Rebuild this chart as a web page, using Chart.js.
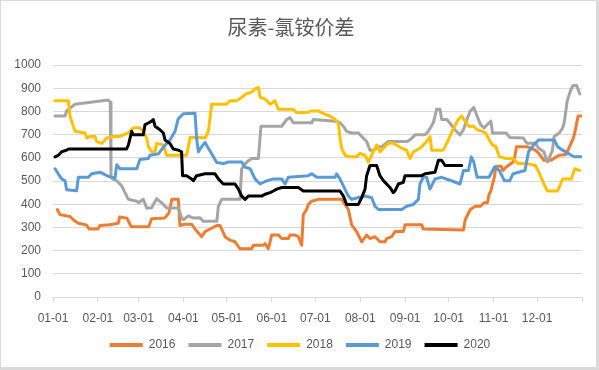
<!DOCTYPE html>
<html>
<head>
<meta charset="utf-8">
<script src="https://cdn.jsdelivr.net/npm/chart.js@4"></script>
<style>
  html, body { margin: 0; padding: 0; background: #ffffff; }
  #wrap { position: relative; width: 599px; height: 370px; }
  #frame { position: absolute; left: 0; top: 0; width: 599px; height: 370px; box-sizing: border-box;
           border-style: solid; border-color: #d9d9d9; border-width: 1px 3px 3px 1px; pointer-events: none; }
</style>
</head>
<body>
<div id="wrap">
  <canvas id="c" width="599" height="370"></canvas>
  <div id="frame"></div>
</div>
<script>
// ---- data (day of year, value) ----
const titleText = '尿素-氯铵价差';
const seriesNames = ['2016', '2017', '2018', '2019', '2020'];
const monthStarts = [0, 31, 59, 90, 120, 151, 181, 212, 243, 273, 304, 334, 365];
const tickLabels = ['01-01','02-01','03-01','04-01','05-01','06-01','07-01','08-01','09-01','10-01','11-01','12-01'];
const yTicks = [0, 100, 200, 300, 400, 500, 600, 700, 800, 900, 1000];

const s2016 = [[3,377],[4.8,355],[11.7,347],[14,333],[17.5,318],[23,311],[25,293],[31,293],[32.4,308],[39,311],[45,318],[46,345],[51,340],[54,303],[66,303],[68,337],[77,340],[80,362],[82,421],[86.5,421],[87.6,308],[91,314],[95.7,314],[98,293],[102.6,260],[104.9,282],[108.4,293],[113,308],[115.2,308],[116.4,293],[118.7,260],[122.1,245],[125.6,238],[129,208],[137,208],[138.3,223],[145.1,223],[146.3,230],[148.6,208],[150.9,267],[155.5,267],[157.8,252],[162.4,252],[163.5,267],[167,267],[169.3,260],[171.6,223],[172.7,355],[175,377],[176.2,399],[178.5,413],[183.1,421],[199.2,421],[203.8,377],[206.1,311],[209.5,282],[213,238],[216.4,267],[218.7,252],[222.2,260],[225.6,238],[229.1,238],[230.2,252],[233.7,260],[236,282],[241.7,282],[242.9,311],[254.4,311],[255.5,293],[283.2,289],[284.4,333],[287.9,377],[291.5,391],[295,391],[297.4,406],[299.7,406],[300.9,443],[302.1,457],[304.5,516],[305.6,564],[309.2,564],[310.4,545],[312.7,560],[317.5,582],[318.6,604],[319.8,648],[326.9,648],[332.8,633],[335.2,619],[338.7,589],[343.4,589],[349.3,611],[354,614],[356.4,648],[358.8,682],[360,707],[362.3,780],[364.7,780]];

const s2017 = [[1.4,780],[8.3,780],[9.4,802],[15.2,831],[38,849],[39.5,840],[40,523],[41,509],[44,501],[47.4,479],[52,421],[57.8,413],[59,406],[62.3,421],[64.6,384],[68,384],[71.5,424],[75,406],[78.4,384],[86.5,384],[88.8,340],[90,333],[93.4,350],[96.8,340],[101.4,342],[103.7,326],[113,326],[114.1,391],[116.4,421],[129,421],[130.2,553],[133.7,582],[137.1,597],[141.7,597],[143.5,736],[157.8,736],[159.6,751],[161.2,765],[163.5,773],[165.8,751],[178.5,751],[179.6,765],[194.6,758],[198,751],[200.4,736],[202.6,714],[206.1,707],[210.7,707],[213,692],[216.4,670],[218.7,633],[221,633],[224.5,648],[226.8,648],[231.4,670],[244,670],[246.3,677],[249.8,699],[256.7,699],[259,714],[262.4,751],[264.7,809],[267,809],[268.2,765],[271.7,765],[273.7,751],[277.3,721],[280.8,699],[283.2,721],[285.6,765],[287.9,802],[290.3,817],[292.6,780],[295,743],[297.4,729],[300.9,751],[302.1,758],[303.3,707],[312.7,707],[315.1,688],[324.5,685],[326.9,663],[332.8,663],[335.2,641],[338.7,626],[341.1,582],[342.3,597],[344.6,633],[345.8,692],[349.3,707],[351.7,729],[352.9,758],[354.8,846],[357.1,890],[358.8,912],[361.2,912],[363.5,875]];

const s2018 = [[1.4,846],[10.6,846],[11.7,780],[15.2,714],[22.1,707],[23.2,685],[25.5,692],[29,692],[30.1,670],[33.6,662],[37,685],[41.6,692],[46.2,692],[52,707],[55.4,729],[60,729],[62.3,714],[64.6,685],[65.8,648],[68.1,626],[70.4,626],[71.5,662],[76.1,655],[78.4,611],[92.2,611],[94.6,688],[101.4,688],[104.9,685],[107.2,714],[109.5,831],[119.8,831],[122.1,846],[126.7,846],[130.2,860],[133,875],[137,883],[139.4,897],[141.7,904],[142.9,861],[146.3,853],[147.5,846],[149.8,831],[153.2,846],[155.5,809],[165.8,809],[168.1,795],[175,795],[178.5,802],[183.1,802],[187.7,787],[191.1,780],[194.6,765],[196.9,751],[198,685],[199.2,641],[201.5,611],[205,604],[209.5,604],[211.8,619],[215.3,611],[217.6,582],[221,626],[223.4,655],[225.6,626],[229.1,648],[231.4,663],[234.8,663],[240.6,641],[244,633],[246.3,597],[248.6,626],[251,633],[254.4,648],[257.8,670],[260.1,692],[261.3,633],[269.3,633],[272.8,677],[275,710],[279.6,765],[282,780],[284.4,758],[286.7,736],[290.3,736],[292.6,721],[296.2,714],[298.5,707],[300.9,677],[303.3,655],[305.6,648],[308,604],[312.7,597],[317.5,597],[321,575],[326.9,575],[332.8,567],[335.2,538],[338.7,487],[341.1,457],[348.2,457],[351.7,509],[357.6,509],[360,553],[363.5,545]];

const s2019 = [[1.4,553],[3.7,530],[6,509],[8.3,501],[9.4,462],[16.3,458],[17.5,516],[24.4,516],[26.7,531],[32.4,538],[38.2,520],[42.8,513],[44,570],[46.2,553],[57.8,553],[60,593],[65.8,597],[66.9,611],[72.7,617],[76.1,645],[80.7,677],[84.2,714],[86.4,768],[89.9,790],[98,792],[99.1,685],[100.3,626],[102.6,648],[104.9,666],[107.2,641],[110.6,606],[113,580],[117.5,575],[121,582],[130.2,582],[132.5,560],[136,553],[139.4,509],[142.9,487],[146.3,498],[152,509],[157.8,509],[160.1,487],[162.4,516],[176.2,523],[178.5,531],[182,516],[194.6,516],[195.7,531],[198,509],[203.8,435],[206.1,421],[215.3,435],[219.9,428],[222.2,391],[224.5,377],[240.6,377],[244,391],[248.6,399],[252.1,421],[253.2,487],[255.5,516],[257.8,516],[260.1,465],[263.6,509],[268.2,516],[274.9,501],[280.8,487],[283.2,545],[286.7,545],[288.6,604],[290.3,582],[292.6,516],[300.9,516],[304.5,560],[308,545],[311.5,501],[315.1,501],[317.4,531],[325.7,545],[328.1,626],[331.6,655],[335.2,677],[345.8,677],[348.2,648],[351.7,633],[357.6,611],[360,604],[365,604]];

const s2020 = [[1.4,604],[3.7,611],[6,626],[9.4,633],[10.6,638],[50.8,638],[52,655],[54.3,714],[55.4,699],[62.3,699],[63.5,743],[65.8,750],[68.1,758],[69.2,765],[70.4,736],[73.8,721],[76.1,707],[77.3,677],[80.7,662],[83,638],[86.4,633],[88.7,626],[89.4,523],[92.2,523],[95.6,509],[96.9,501],[99.1,523],[104.9,531],[111.8,531],[114.1,509],[117.5,487],[125.6,487],[127.9,465],[130.2,435],[132.5,421],[134.8,435],[144,435],[146.3,443],[149.8,450],[152,457],[154.3,465],[157.8,472],[169.3,472],[172.7,457],[198,457],[200.4,435],[202.6,399],[210.7,399],[213,428],[215.3,465],[216.4,523],[218.7,567],[223.3,567],[225.6,523],[228,501],[229.1,494],[232.5,472],[234.8,450],[236,457],[238.3,487],[241.7,494],[242.9,523],[254.4,523],[256.7,531],[263.6,538],[265.9,589],[268.2,589],[270.5,567],[282,567]];

const allSeries = [s2016, s2017, s2018, s2019, s2020];
const colors = ['#ED7D31', '#A5A5A5', '#FFC000', '#5B9BD5', '#000000'];

const textColor = '#595959';
const gridColor = '#d9d9d9';
Chart.defaults.font.family = "'Liberation Sans', Arial, sans-serif";
Chart.defaults.color = textColor;

const datasets = allSeries.map((s, i) => ({
  label: seriesNames[i],
  data: s.map(p => ({ x: p[0], y: p[1] })),
  borderColor: colors[i],
  backgroundColor: colors[i],
  borderWidth: 3,
  pointRadius: 0,
  tension: 0,
  borderJoinStyle: 'round',
  borderCapStyle: 'round',
  order: allSeries.length - i
}));

// nudge the centred legend row slightly right, as in the reference
const legendShift = {
  id: 'legendShift',
  afterLayout(chart) {
    if (chart.legend) { chart.legend.left += 9; chart.legend.right += 9; }
  }
};

new Chart(document.getElementById('c'), {
  type: 'line',
  data: { datasets },
  plugins: [legendShift],
  options: {
    responsive: false,
    animation: false,
    layout: { padding: { left: 0, right: 17, top: 0, bottom: 9 } },
    plugins: {
      title: {
        display: true,
        text: titleText,
        color: textColor,
        font: { family: "'Noto Sans CJK SC', sans-serif", size: 20, weight: 'normal' },
        padding: { top: 15, bottom: 26 }
      },
      legend: {
        position: 'bottom',
        labels: {
          boxWidth: 33,
          boxHeight: 4,
          padding: 13,
          color: textColor,
          font: { size: 12 },
          sort: (a, b) => a.datasetIndex - b.datasetIndex,
          generateLabels: (chart) => {
            const items = Chart.defaults.plugins.legend.labels.generateLabels(chart);
            items.forEach(it => { it.lineWidth = 0; it.strokeStyle = 'rgba(0,0,0,0)'; });
            return items;
          }
        }
      },
      tooltip: { enabled: false }
    },
    scales: {
      x: {
        type: 'linear',
        min: 0,
        max: 365,
        afterBuildTicks: (scale) => { scale.ticks = monthStarts.map(v => ({ value: v })); },
        afterFit: (scale) => { scale.height = 29; },
        ticks: {
          autoSkip: false,
          maxRotation: 0,
          minRotation: 0,
          padding: 9,
          color: textColor,
          font: { size: 12 },
          callback: (value, index) => (index < tickLabels.length ? tickLabels[index] : '')
        },
        grid: { display: true, drawOnChartArea: false, drawTicks: true, tickLength: 5, color: gridColor, lineWidth: 1 },
        border: { display: true, color: gridColor, width: 1 }
      },
      y: {
        min: 0,
        max: 1000,
        afterBuildTicks: (scale) => { scale.ticks = yTicks.map(v => ({ value: v })); },
        afterFit: (scale) => { scale.width = 53; },
        ticks: { padding: 12, color: textColor, font: { size: 12 }, callback: (value) => String(value) },
        grid: { color: gridColor, lineWidth: 1, drawTicks: false },
        border: { display: false }
      }
    }
  }
});
</script>
</body>
</html>
